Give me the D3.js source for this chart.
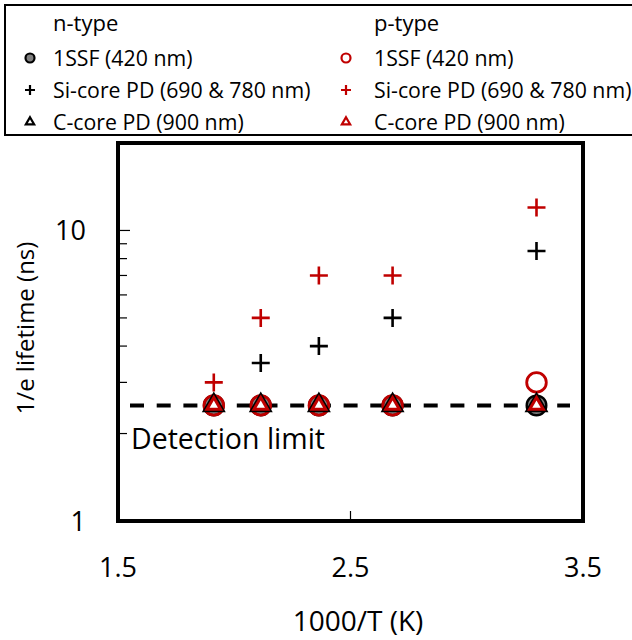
<!DOCTYPE html>
<html>
<head>
<meta charset="utf-8">
<script src="https://cdn.jsdelivr.net/npm/d3@7"></script>
<style>
  body { margin: 0; background: #fff; }
  text { font-family: "Open Sans", "Noto Sans", sans-serif; }
</style>
</head>
<body>
<div id="chart"></div>
<script>
// 1000/T values of the five temperatures
const invT = [1.912, 2.114, 2.364, 2.681, 3.300];

// 1/e lifetime (ns)
const nSSF = [2.5, 2.5, 2.5, 2.5, 2.5];
const nSi = [2.5, 3.5, 4.0, 5.0, 8.5];
const nC = [2.5, 2.5, 2.5, 2.5, 2.5];
const pSSF = [2.5, 2.5, 2.5, 2.5, 3.0];
const pSi = [3.0, 5.0, 7.0, 7.0, 12.0];
const pC = [2.5, 2.5, 2.5, 2.5, 2.5];

const detectionLimit = 2.5;

const xTicks = [1.5, 2.5, 3.5];
const yTicks = [1, 10];
const yMinor = [2, 3, 4, 5, 6, 7, 8, 9, 10];

const legendN = ["1SSF (420 nm)", "Si-core PD (690 & 780 nm)", "C-core PD (900 nm)"];
const legendP = ["1SSF (420 nm)", "Si-core PD (690 & 780 nm)", "C-core PD (900 nm)"];

const width = 632;
const height = 640;
const red = "#c00000";

const svg = d3.select("#chart")
  .append("svg")
  .attr("width", width)
  .attr("height", height);

const x = d3.scaleLinear().domain([1.5, 3.5]).range([118, 583]);
const y = d3.scaleLog().domain([1, 20]).range([521, 143]);

// ---- legend ----
const lg = svg.append("g");
lg.append("rect")
  .attr("x", 5).attr("y", 5)
  .attr("width", 640).attr("height", 130)
  .attr("fill", "none").attr("stroke", "#000").attr("stroke-width", 2);

function plus(g, cx, cy, r, color, sw) {
  g.append("path")
    .attr("d", `M${cx - r},${cy}H${cx + r}M${cx},${cy - r}V${cy + r}`)
    .attr("stroke", color).attr("stroke-width", sw).attr("fill", "none");
}

const cols = [
  { mx: 30, tx: 53, title: "n-type", labels: legendN, color: "#000" },
  { mx: 346, tx: 374, title: "p-type", labels: legendP, color: red }
];
const rows = [58, 90, 122];

cols.forEach((c, ci) => {
  lg.append("text")
    .attr("x", c.tx).attr("y", 31)
    .attr("font-size", 22)
    .text(c.title);
  c.labels.forEach((l, i) => {
    lg.append("text")
      .attr("x", c.tx).attr("y", rows[i] + 8)
      .attr("font-size", 21.3)
      .text(l);
  });
  // circle
  lg.append("circle")
    .attr("cx", c.mx).attr("cy", rows[0]).attr("r", 4.5)
    .attr("fill", ci === 0 ? "#808080" : "#fff")
    .attr("stroke", c.color).attr("stroke-width", 2.2);
  plus(lg, c.mx, rows[1], 5, c.color, 2.2);
  lg.append("path")
    .attr("transform", `translate(${c.mx},${rows[2]})`)
    .attr("d", d3.symbol(d3.symbolTriangle, 30)())
    .attr("fill", "#fff").attr("stroke", c.color).attr("stroke-width", 2.2);
});

// ---- plot area ----
const plot = svg.append("g");

// minor ticks on left axis (inside)
plot.append("g")
  .selectAll("line")
  .data(yMinor)
  .join("line")
  .attr("x1", x(1.5)).attr("x2", (d) => x(1.5) + (d === 10 ? 12 : 9))
  .attr("y1", (d) => y(d)).attr("y2", (d) => y(d))
  .attr("stroke", "#000").attr("stroke-width", 1.2);

// x tick at 2.5 (inside)
plot.append("line")
  .attr("x1", x(2.5)).attr("x2", x(2.5))
  .attr("y1", y(1)).attr("y2", y(1) - 10)
  .attr("stroke", "#000").attr("stroke-width", 1.2);

// tick labels
plot.append("g")
  .selectAll("text")
  .data(xTicks)
  .join("text")
  .attr("x", (d) => x(d)).attr("y", 577)
  .attr("text-anchor", "middle")
  .attr("font-size", 27)
  .text((d) => d3.format(".1f")(d));

plot.append("g")
  .selectAll("text")
  .data(yTicks)
  .join("text")
  .attr("x", 86).attr("y", (d) => y(d) + 10)
  .attr("text-anchor", "end")
  .attr("font-size", 27)
  .text((d) => d);

// axis titles
svg.append("text")
  .attr("x", 358).attr("y", 631)
  .attr("text-anchor", "middle")
  .attr("font-size", 28)
  .text("1000/T (K)");

svg.append("text")
  .attr("transform", `translate(34,${(y(1) + y(20)) / 2 - 4}) rotate(-90)`)
  .attr("text-anchor", "middle")
  .attr("font-size", 24)
  .text("1/e lifetime (ns)");

// detection limit
plot.append("line")
  .attr("x1", 130).attr("x2", 570)
  .attr("y1", y(detectionLimit)).attr("y2", y(detectionLimit))
  .attr("stroke", "#000").attr("stroke-width", 4)
  .attr("stroke-dasharray", "14,12.7");

plot.append("text")
  .attr("x", 131).attr("y", y(detectionLimit) + 44)
  .attr("font-size", 28.5)
  .text("Detection limit");

// ---- data markers ----
const pts = (vals) => invT.map((t, i) => ({ t: t, v: vals[i] }));

const marks = svg.append("g");

marks.selectAll(".nsi")
  .data(pts(nSi))
  .join("path")
  .attr("class", "nsi")
  .attr("d", (d) => `M${x(d.t) - 9},${y(d.v)}H${x(d.t) + 9}M${x(d.t)},${y(d.v) - 9}V${y(d.v) + 9}`)
  .attr("stroke", "#000").attr("stroke-width", 2.6);

marks.selectAll(".psi")
  .data(pts(pSi))
  .join("path")
  .attr("class", "psi")
  .attr("d", (d) => `M${x(d.t) - 9},${y(d.v)}H${x(d.t) + 9}M${x(d.t)},${y(d.v) - 9}V${y(d.v) + 9}`)
  .attr("stroke", red).attr("stroke-width", 2.6);

marks.selectAll(".nssf")
  .data(pts(nSSF))
  .join("circle")
  .attr("class", "nssf")
  .attr("cx", (d) => x(d.t)).attr("cy", (d) => y(d.v))
  .attr("r", 9.8)
  .attr("fill", "#808080").attr("stroke", "#000").attr("stroke-width", 2.4);

marks.selectAll(".pssf")
  .data(pts(pSSF))
  .join("circle")
  .attr("class", "pssf")
  .attr("cx", (d) => x(d.t)).attr("cy", (d) => y(d.v))
  .attr("r", 9.8)
  .attr("fill", "none").attr("stroke", red).attr("stroke-width", 2.8);

marks.selectAll(".nc")
  .data(pts(nC))
  .join("path")
  .attr("class", "nc")
  .attr("transform", (d) => `translate(${x(d.t)},${y(d.v)})`)
  .attr("d", d3.symbol(d3.symbolTriangle, 170)())
  .attr("fill", "#fff").attr("stroke", "#000").attr("stroke-width", 2.4);

marks.selectAll(".pc")
  .data(pts(pC))
  .join("path")
  .attr("class", "pc")
  .attr("transform", (d) => `translate(${x(d.t)},${y(d.v)})`)
  .attr("d", d3.symbol(d3.symbolTriangle, 80)())
  .attr("fill", "#fff").attr("stroke", red).attr("stroke-width", 3);

// frame
svg.append("rect")
  .attr("x", x(1.5)).attr("y", y(20))
  .attr("width", x(3.5) - x(1.5)).attr("height", y(1) - y(20))
  .attr("fill", "none").attr("stroke", "#000").attr("stroke-width", 4);
</script>
</body>
</html>
